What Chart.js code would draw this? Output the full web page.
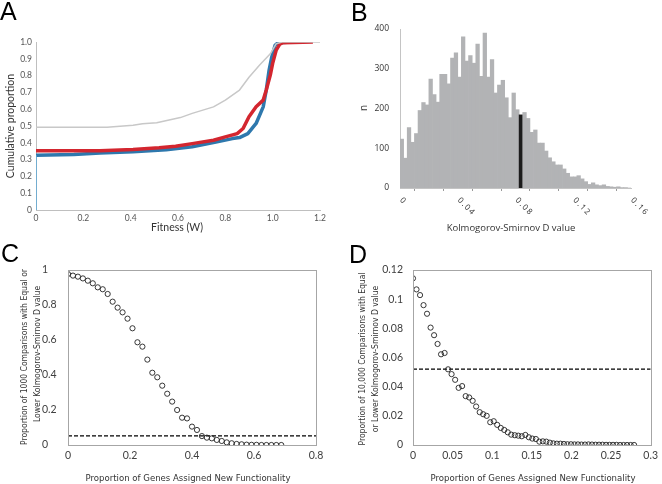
<!DOCTYPE html>
<html><head><meta charset="utf-8">
<script src="https://cdn.jsdelivr.net/npm/chart.js@4"></script>
<style>
html,body{margin:0;padding:0;background:#fff;}
body{width:662px;height:484px;position:relative;overflow:hidden;}
canvas{position:absolute;display:block;}
.letter{position:absolute;font-family:"Liberation Sans",Arial,sans-serif;font-size:25px;color:#000;line-height:1;}
</style></head><body>
<canvas id="cA" width="331" height="242" style="left:0;top:0"></canvas>
<canvas id="cB" width="331" height="242" style="left:331px;top:0"></canvas>
<canvas id="cC" width="331" height="242" style="left:0;top:242px"></canvas>
<canvas id="cD" width="331" height="242" style="left:331px;top:242px"></canvas>
<div class="letter" style="left:0;top:-1px">A</div>
<div class="letter" style="left:351px;top:0">B</div>
<div class="letter" style="left:1px;top:241px">C</div>
<div class="letter" style="left:349px;top:242px">D</div>
<script>
// ---------- Panel A: cumulative fitness distributions ----------
const grayX = [0,0.3,0.41,0.45,0.51,0.61,0.66,0.75,0.8,0.86,0.9,0.945,0.99,1.015,1.04,1.2];
const grayY = [0.493,0.493,0.505,0.513,0.519,0.55,0.575,0.614,0.654,0.714,0.79,0.863,0.93,0.99,1.0,1.0];
const redX = [0,0.27,0.41,0.52,0.59,0.66,0.75,0.8,0.85,0.875,0.9,0.93,0.96,0.973,0.99,1.0,1.015,1.03,1.044,1.17];
const redY = [0.352,0.352,0.36,0.37,0.38,0.395,0.415,0.435,0.455,0.485,0.555,0.614,0.654,0.714,0.803,0.873,0.952,0.988,0.996,1.0];
const blueStemX = [0,0];
const blueStemY = [0,0.326];
const blueX = [0,0.16,0.27,0.41,0.55,0.66,0.76,0.83,0.86,0.895,0.93,0.96,0.973,0.985,0.995,1.01,1.023,1.08];
const blueY = [0.326,0.33,0.34,0.346,0.358,0.376,0.404,0.425,0.431,0.455,0.515,0.614,0.714,0.833,0.903,0.98,0.996,1.0];

// ---------- Panel B: histogram of KS D values ----------
const binWidth = 0.0025;
const dCounts = [123,75,152,115,137,195,215,209,274,235,216,286,286,262,327,340,279,380,319,333,314,362,281,390,279,323,239,259,271,227,177,239,197,184,190,175,140,146,113,113,93,76,66,58,58,48,37,28,28,31,23,16,9,13,8,6,8,4,3,2,3,1,1,0];
const observedBin = 33;
const bTickLabels = [0,0.04,0.08,0.12,0.16];

// ---------- Panel C ----------
const cX = [0,0.016,0.032,0.048,0.064,0.08,0.096,0.112,0.128,0.144,0.16,0.176,0.192,0.208,0.224,0.24,0.256,0.272,0.288,0.304,0.32,0.336,0.352,0.368,0.384,0.4,0.416,0.432,0.448,0.464,0.48,0.496,0.512,0.528,0.544,0.56,0.576,0.592,0.608,0.624,0.64,0.656,0.672,0.688];
const cY = [0.977,0.968,0.962,0.952,0.939,0.924,0.901,0.89,0.863,0.819,0.785,0.758,0.722,0.667,0.587,0.562,0.488,0.413,0.387,0.339,0.293,0.248,0.2,0.156,0.152,0.105,0.086,0.051,0.042,0.038,0.029,0.023,0.015,0.01,0.006,0.004,0.002,0.001,0.001,0,0,0,0,0];
const cutC = 0.052;

// ---------- Panel D ----------
const dX = [0,0.0044,0.0089,0.0133,0.0177,0.0222,0.0266,0.031,0.0354,0.0399,0.0443,0.0487,0.0532,0.0576,0.062,0.0665,0.0709,0.0753,0.0797,0.0842,0.0886,0.093,0.0975,0.1019,0.1063,0.1108,0.1152,0.1196,0.124,0.1285,0.1329,0.1373,0.1418,0.1462,0.1506,0.1551,0.1595,0.1639,0.1683,0.1728,0.1772,0.1816,0.1861,0.1905,0.1949,0.1994,0.2038,0.2082,0.2126,0.2171,0.2215,0.2259,0.2304,0.2348,0.2392,0.2437,0.2481,0.2525,0.2569,0.2614,0.2658,0.2702,0.2747,0.2791];
const dY = [0.1143,0.1067,0.1028,0.0959,0.09,0.0805,0.0753,0.0693,0.0622,0.0631,0.0519,0.0486,0.0447,0.0392,0.0404,0.0335,0.0326,0.0303,0.0264,0.0225,0.0211,0.02,0.0156,0.0163,0.0138,0.0117,0.0103,0.0087,0.0071,0.0067,0.0064,0.006,0.0069,0.0053,0.0044,0.0041,0.0023,0.0025,0.0023,0.0016,0.0011,0.0009,0.0009,0.0007,0.0005,0.0005,0.0004,0.0004,0.0003,0.0003,0.0004,0.0003,0.0002,0.0002,0.0002,0.0001,0.0001,0.0001,0.0001,0,0,0,0,0];
const cutD = 0.052;

const zip = (xs, ys) => xs.map((x, i) => ({x, y: ys[i]}));
const NARROW = '"DejaVu Sans Condensed", Lato, sans-serif';

const textPlugin = {
  id: 'texts',
  afterDraw(chart, args, opts) {
    const ctx = chart.ctx;
    (opts.items || []).forEach(it => {
      ctx.save();
      ctx.font = it.font; ctx.fillStyle = it.color || '#333';
      ctx.textAlign = 'center'; ctx.textBaseline = 'middle';
      ctx.translate(it.x, it.y); if (it.rot) ctx.rotate(it.rot);
      ctx.fillText(it.text, 0, 0);
      ctx.restore();
    });
  }
};
const boxPlugin = {
  id: 'box',
  afterDatasetsDraw(chart, args, opts) {
    if (!opts.color) return;
    const a = chart.chartArea, ctx = chart.ctx;
    ctx.save(); ctx.strokeStyle = opts.color; ctx.lineWidth = 1;
    ctx.strokeRect(Math.round(a.left) + 0.5, Math.round(a.top) + 0.5, Math.round(a.right - a.left), Math.round(a.bottom - a.top));
    ctx.restore();
  }
};
const rotLabelPlugin = {
  id: 'rotLabels',
  afterDraw(chart, args, opts) {
    if (!opts.values) return;
    const ctx = chart.ctx, sx = chart.scales.x;
    opts.values.forEach(v => {
      ctx.save();
      ctx.font = opts.font; ctx.fillStyle = opts.color;
      ctx.letterSpacing = opts.spacing || '0px';
      ctx.textAlign = 'left'; ctx.textBaseline = 'middle';
      ctx.translate(sx.getPixelForValue(v) + 1, chart.chartArea.bottom + opts.offset);
      ctx.rotate(Math.PI / 4);
      ctx.fillText(String(v), 0, 0);
      ctx.restore();
    });
  }
};
Chart.register(textPlugin, boxPlugin, rotLabelPlugin);
Chart.defaults.font.family = 'Lato';
Chart.defaults.animation = false;
Chart.defaults.plugins.legend.display = false;
Chart.defaults.plugins.tooltip.enabled = false;

const fmt1 = v => v === 0 ? '0' : v.toFixed(1);
const fmtN = v => String(+v.toFixed(4));

// A
new Chart(document.getElementById('cA'), {
  type: 'line',
  data: { datasets: [
    { data: zip(grayX, grayY), borderColor: '#c8c8c8', borderWidth: 1.5 },
    { data: zip(blueStemX, blueStemY), borderColor: '#5aa7d6', borderWidth: 1.5 },
    { data: zip(redX, redY), borderColor: '#d3262f', borderWidth: 3.5 },
    { data: zip(blueX, blueY), borderColor: '#2e78ad', borderWidth: 3.5 }
  ]},
  options: {
    responsive: false, devicePixelRatio: 1,
    layout: { padding: { left: 0, top: 42, right: 11, bottom: 0 } },
    elements: { point: { radius: 0 }, line: { tension: 0, borderJoinStyle: 'round' } },
    plugins: { texts: { items: [
      { text: 'Cumulative proportion', x: 11, y: 126, rot: -Math.PI / 2, font: '10.5px Lato', color: '#333' },
      { text: 'Fitness (W)', x: 177, y: 228, font: '10.5px Lato', color: '#333' }
    ]}},
    scales: {
      x: { type: 'linear', min: 0, max: 1.2, afterFit: s => { s.height = 32; },
        grid: { display: false, drawTicks: false }, border: { color: '#bfbfbf' },
        ticks: { stepSize: 0.2, padding: 3, color: '#555', font: { size: 8.5 }, callback: fmt1 } },
      y: { type: 'linear', min: 0, max: 1, afterFit: s => { s.width = 36; },
        grid: { display: false, drawTicks: false }, border: { color: '#bfbfbf' },
        ticks: { stepSize: 0.1, padding: 4, color: '#555', font: { size: 8.5 }, callback: fmt1 } }
    }
  }
});

// B
new Chart(document.getElementById('cB'), {
  type: 'bar',
  data: { datasets: [{
    data: dCounts.map((c, i) => ({ x: (i + 0.5) * binWidth, y: c })),
    backgroundColor: dCounts.map((c, i) => i === observedBin ? '#1c1c1c' : '#b2b3b5'),
    borderWidth: 0, barPercentage: 1, categoryPercentage: 1
  }]},
  options: {
    responsive: false, devicePixelRatio: 1,
    layout: { padding: { left: 0, top: 29, right: 31, bottom: 0 } },
    plugins: {
      texts: { items: [
        { text: 'n', x: 33, y: 108, rot: -Math.PI / 2, font: '10px "Open Sans"', color: '#333' },
        { text: 'Kolmogorov-Smirnov D value', x: 180, y: 228, font: '9.5px "Open Sans"', color: '#333' }
      ]},
      rotLabels: { values: bTickLabels, font: '8px "Open Sans"', color: '#333', spacing: '1.5px', offset: 11 }
    },
    scales: {
      x: { type: 'linear', min: 0, max: 0.16, offset: false, afterFit: s => { s.height = 54; },
        grid: { display: true, drawOnChartArea: false, drawTicks: true, tickLength: 3, color: '#999' },
        border: { color: '#c4c4c4' },
        ticks: { stepSize: 0.02, display: false } },
      y: { min: 0, max: 400, afterFit: s => { s.width = 69; },
        grid: { display: false, drawTicks: false }, border: { color: '#c4c4c4' },
        ticks: { stepSize: 100, padding: 11, color: '#333', font: { family: 'Open Sans', size: 8.5 } } }
    }
  }
});

// C
new Chart(document.getElementById('cC'), {
  type: 'scatter',
  data: { datasets: [
    { data: zip(cX, cY), pointRadius: 2.6, pointBorderWidth: 0.9, pointBorderColor: '#222', pointBackgroundColor: 'rgba(0,0,0,0)' },
    { data: [{ x: 0, y: cutC }, { x: 0.8, y: cutC }], showLine: true, pointRadius: 0, borderColor: '#000', borderWidth: 1.3, borderDash: [4, 2] }
  ]},
  options: {
    responsive: false, devicePixelRatio: 1,
    layout: { padding: { left: 42, top: 28, right: 15, bottom: 0 } },
    plugins: {
      box: { color: '#a6a6a6' },
      texts: { items: [
        { text: 'Proportion of 1000 Comparisons with Equal or', x: 25, y: 115, rot: -Math.PI / 2, font: '8.5px ' + NARROW, color: '#333' },
        { text: 'Lower Kolmogorov-Smirnov D value', x: 38, y: 112, rot: -Math.PI / 2, font: '8.5px ' + NARROW, color: '#333' },
        { text: 'Proportion of Genes Assigned New Functionality', x: 188, y: 237, font: '9.5px ' + NARROW, color: '#333' }
      ]}
    },
    scales: {
      x: { type: 'linear', min: 0, max: 0.8, afterFit: s => { s.height = 39; },
        grid: { display: false, drawTicks: false }, border: { display: false },
        ticks: { stepSize: 0.2, padding: 4, color: '#404040', font: { size: 10.5 }, callback: fmtN } },
      y: { min: 0, max: 1, afterFit: s => { s.width = 26; },
        grid: { display: false, drawTicks: false }, border: { display: false },
        ticks: { stepSize: 0.2, crossAlign: 'far', padding: 0, color: '#404040', font: { size: 10.5 }, callback: fmtN } }
    }
  }
});

// D
new Chart(document.getElementById('cD'), {
  type: 'scatter',
  data: { datasets: [
    { data: zip(dX, dY), pointRadius: 2.6, pointBorderWidth: 0.9, pointBorderColor: '#222', pointBackgroundColor: 'rgba(0,0,0,0)' },
    { data: [{ x: 0, y: cutD }, { x: 0.3, y: cutD }], showLine: true, pointRadius: 0, borderColor: '#000', borderWidth: 1.3, borderDash: [4, 2] }
  ]},
  options: {
    responsive: false, devicePixelRatio: 1,
    layout: { padding: { left: 0, top: 28, right: 8, bottom: 0 } },
    plugins: {
      box: { color: '#a6a6a6' },
      texts: { items: [
        { text: 'Proportion of 10,000 Comparisons with Equal', x: 32, y: 117, rot: -Math.PI / 2, font: '8.5px ' + NARROW, color: '#333' },
        { text: 'or Lower Kolmogorov-Smirnov D value', x: 45, y: 117, rot: -Math.PI / 2, font: '8.5px ' + NARROW, color: '#333' },
        { text: 'Proportion of Genes Assigned New Functionality', x: 202, y: 237, font: '9.5px ' + NARROW, color: '#333' }
      ]}
    },
    scales: {
      x: { type: 'linear', min: 0, max: 0.3, afterFit: s => { s.height = 39; },
        grid: { display: false, drawTicks: false }, border: { display: false },
        ticks: { stepSize: 0.05, padding: 4, color: '#404040', font: { size: 10.5 }, callback: fmtN } },
      y: { min: 0, max: 0.12, afterFit: s => { s.width = 82; },
        grid: { display: false, drawTicks: false }, border: { display: false },
        ticks: { stepSize: 0.02, padding: 10, color: '#404040', font: { size: 10.5 }, callback: fmtN } }
    }
  }
});
</script>
</body></html>
